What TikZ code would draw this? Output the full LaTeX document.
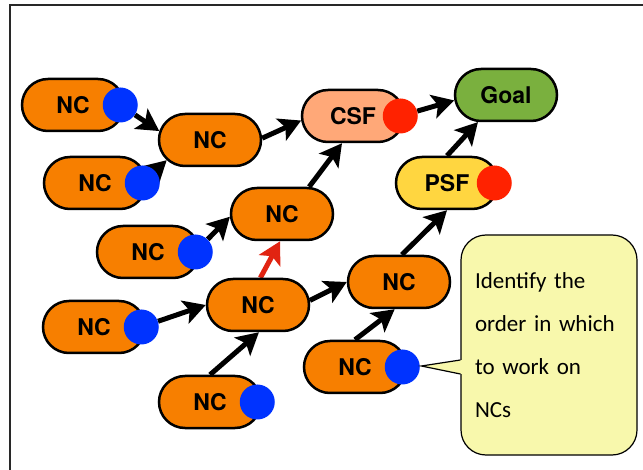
\documentclass[tikz,border=0pt]{standalone}
\usepackage{fontspec}
\setmainfont{TeX Gyre Heros}
\newfontfamily\notefont{Carlito}
\usepackage{tikz}
\usetikzlibrary{shapes.misc,arrows.meta,backgrounds,positioning}
\usepackage{xcolor}
\definecolor{ncorange}{RGB}{247,127,0}
\definecolor{csfpeach}{RGB}{255,168,120}
\definecolor{goalgreen}{RGB}{122,176,62}
\definecolor{psfyellow}{RGB}{255,214,64}
\definecolor{dotblue}{RGB}{0,51,255}
\definecolor{dotred}{RGB}{255,34,0}
\definecolor{arrowred}{RGB}{225,36,18}
\definecolor{notefill}{RGB}{248,248,172}
\definecolor{framegray}{RGB}{40,40,40}
\tikzset{
 pill/.style={rounded rectangle, draw=black, line width=2.5pt, minimum width=102pt, minimum height=52pt, inner sep=0pt, font=\fontsize{23}{23}\selectfont\bfseries},
 blob/.style={circle, minimum size=35pt, inner sep=0pt},
 flow/.style={line width=5pt, -{Stealth[length=22pt,width=24pt,inset=5pt]}},
 callout/.style={draw=black, line width=1.2pt, fill=notefill, rounded corners=25pt, minimum width=176pt, minimum height=220pt, inner xsep=14pt, text width=148pt, align=left, font=\notefont\fontsize{23}{43}\selectfont}
}
\newcommand{\pillnode}[4]{
 \node[pill, fill=#3] (#1) at #2 {#4};
}
\newcommand{\pilldot}[3]{
 \node[blob, fill=#3] (#1) at ([xshift=-5pt]#2.east) {};
}
\begin{document}
\begin{tikzpicture}[x=1pt, y=-1pt]
 \useasboundingbox (0,0) rectangle (643,470);
 \draw[line width=2pt, framegray] (643,5) -- (10,5) -- (10,470);
%
 \pillnode{A}{(73,105)}{ncorange}{NC}
 \pillnode{B}{(95,183)}{ncorange}{NC}
 \pillnode{C}{(210,140)}{ncorange}{NC}
 \pillnode{CSF}{(353,116)}{csfpeach}{CSF}
 \pillnode{Goal}{(506,95)}{goalgreen}{Goal}
 \pillnode{PSF}{(447,183)}{psfyellow}{PSF}
 \pillnode{D}{(282,214)}{ncorange}{NC}
 \pillnode{E}{(148,252)}{ncorange}{NC}
 \pillnode{F}{(258,305)}{ncorange}{NC}
 \pillnode{G}{(94,327)}{ncorange}{NC}
 \pillnode{H}{(210,402)}{ncorange}{NC}
 \pillnode{I}{(399,282)}{ncorange}{NC}
 \pillnode{J}{(355,367)}{ncorange}{NC}
%
 \pilldot{dA}{A}{dotblue}
 \pilldot{dB}{B}{dotblue}
 \pilldot{dE}{E}{dotblue}
 \pilldot{dG}{G}{dotblue}
 \pilldot{dH}{H}{dotblue}
 \pilldot{dJ}{J}{dotblue}
 \pilldot{dCSF}{CSF}{dotred}
 \pilldot{dPSF}{PSF}{dotred}
%
 \begin{scope}[on background layer]
  \draw[flow] (dA) -- (C.170);
  \draw[flow] (dB) -- (C.205);
  \draw[flow] (C.2) -- (CSF.185);
  \draw[flow] (D.45) -- (CSF.248);
  \draw[flow] (dCSF) -- (Goal.186);
  \draw[flow] (PSF.90) -- (Goal.224);
  \draw[flow] (dE) -- (D.183);
  \draw[flow, arrowred] (F.85) -- (D.266);
  \draw[flow] (dG) -- (F.180);
  \draw[flow] (H.90) -- (F.272);
  \draw[flow] (F.5) -- (I.180);
  \draw[flow] (J.90) -- (I.261);
  \draw[flow] (I.84) -- (PSF.270);
 \end{scope}
%
 \node[callout] (note) at (549,345) {Identify the\\order in which\\to work on\\NCs};
 \coordinate (tip) at ([xshift=-39pt, yshift=-21pt]note.west);
 \fill[notefill] ([xshift=2pt, yshift=-15pt]note.west) -- (tip) -- ([xshift=2pt, yshift=-29pt]note.west) -- cycle;
 \draw[line width=1.2pt] ([yshift=-15pt]note.west) -- (tip) -- ([yshift=-29pt]note.west);
\end{tikzpicture}
\end{document}
